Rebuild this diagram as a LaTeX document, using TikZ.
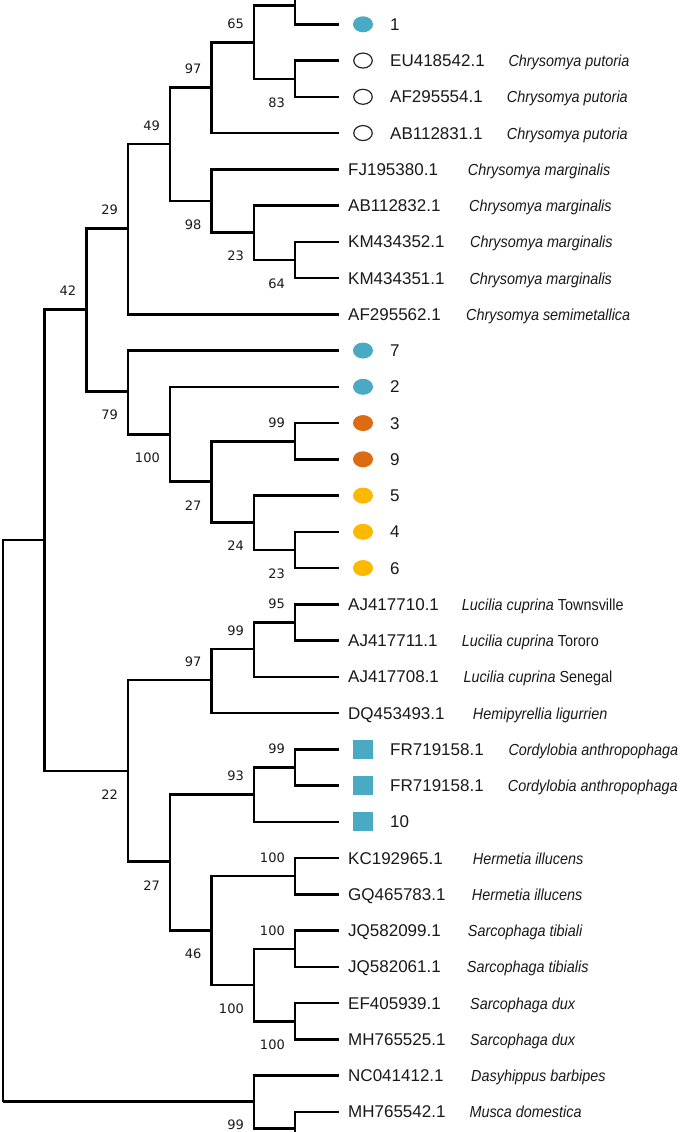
\documentclass[tikz,border=0pt]{standalone}
\usepackage{fontspec}
\setmainfont{Liberation Sans}
\newfontfamily\accfont{Liberation Sans}
\newfontfamily\spfont[FakeStretch=0.9]{Liberation Sans}
\newfontfamily\bsfont{DejaVu Sans}
\usetikzlibrary{calc,shapes.geometric}
\definecolor{tealm}{HTML}{4AA9C3}
\definecolor{orangem}{HTML}{DD6B12}
\definecolor{yellowm}{HTML}{FCB900}
\begin{document}
\begin{tikzpicture}[x=1pt,y=-1pt,
  br/.style={line width=2.6pt, black, line join=miter},
  acc/.style={anchor=base west, inner sep=0pt, font=\accfont\fontsize{17}{20}\selectfont, text=black!90},
  sp/.style={anchor=base west, inner sep=0pt, font=\spfont\fontsize{16}{19}\selectfont\itshape, text=black!90},
  bs/.style={anchor=east, inner sep=0pt, font=\bsfont\fontsize{13}{15}\selectfont, text=black!90},
  dotm/.style={ellipse, minimum width=20pt, minimum height=16pt, inner sep=0pt, draw=none},
  opendot/.style={ellipse, minimum width=18.5pt, minimum height=15pt, inner sep=0pt, draw=black!85, line width=1.2pt},
  sqm/.style={rectangle, minimum width=20pt, minimum height=19pt, inner sep=0pt, fill=tealm},
]
\fill[white] (0,0) rectangle (685,1132);
\useasboundingbox (0,0) rectangle (685,1132);

% leaf tips
\foreach \i in {0,...,30} \coordinate (L\i) at (339, 24.3+36.25*\i);

% internal nodes
\coordinate (R) at (3,1101.7);
\coordinate (A) at (44.3,540);
\coordinate (N42) at (86.3,309.7);
\coordinate (N29) at (128,228.7);
\coordinate (N49) at (170,144);
\coordinate (N97) at (211.7,87.3);
\coordinate (N65) at (254,42.3);
\coordinate (H) at (295,5.7);
\coordinate (topcut) at (295,0);
\coordinate (N83) at (295,79);
\coordinate (N98) at (211.7,201);
\coordinate (N23a) at (254,232.3);
\coordinate (N64) at (295,260);
\coordinate (N79) at (128,391.7);
\coordinate (N100a) at (170,434.3);
\coordinate (N27a) at (211.7,481.7);
\coordinate (N99a) at (295,441.7);
\coordinate (N24) at (254,522.3);
\coordinate (N23b) at (295,550);
\coordinate (N22) at (128,771);
\coordinate (N97b) at (211.7,680);
\coordinate (N99b) at (254,649);
\coordinate (N95) at (295,622.7);
\coordinate (N27b) at (170,861.7);
\coordinate (N93) at (254,794.3);
\coordinate (N99c) at (295,767.7);
\coordinate (N46) at (211.7,930.7);
\coordinate (N100b) at (295,876);
\coordinate (N100c) at (254,985);
\coordinate (N100d) at (295,949);
\coordinate (N100e) at (295,1021.7);
\coordinate (O) at (254,1101.7);
\coordinate (B) at (295,1128.7);
\coordinate (botcut) at (295,1132);

% branches
\draw[br] (R) |- (A);  \draw[br] (R) |- (O);
\draw[br] (A) |- (N42); \draw[br] (A) |- (N22);
\draw[br] (N42) |- (N29); \draw[br] (N42) |- (N79);
\draw[br] (N29) |- (N49); \draw[br] (N29) |- (L8);
\draw[br] (N49) |- (N97); \draw[br] (N49) |- (N98);
\draw[br] (N97) |- (N65); \draw[br] (N97) |- (L3);
\draw[br] (N65) |- (H); \draw[br] (N65) |- (N83);
\draw[br] (H) |- (L0); \draw[br] (H) -- (topcut);
\draw[br] (N83) |- (L1); \draw[br] (N83) |- (L2);
\draw[br] (N98) |- (L4); \draw[br] (N98) |- (N23a);
\draw[br] (N23a) |- (L5); \draw[br] (N23a) |- (N64);
\draw[br] (N64) |- (L6); \draw[br] (N64) |- (L7);
\draw[br] (N79) |- (L9); \draw[br] (N79) |- (N100a);
\draw[br] (N100a) |- (L10); \draw[br] (N100a) |- (N27a);
\draw[br] (N27a) |- (N99a); \draw[br] (N27a) |- (N24);
\draw[br] (N99a) |- (L11); \draw[br] (N99a) |- (L12);
\draw[br] (N24) |- (L13); \draw[br] (N24) |- (N23b);
\draw[br] (N23b) |- (L14); \draw[br] (N23b) |- (L15);
\draw[br] (N22) |- (N97b); \draw[br] (N22) |- (N27b);
\draw[br] (N97b) |- (N99b); \draw[br] (N97b) |- (L19);
\draw[br] (N99b) |- (N95); \draw[br] (N99b) |- (L18);
\draw[br] (N95) |- (L16); \draw[br] (N95) |- (L17);
\draw[br] (N27b) |- (N93); \draw[br] (N27b) |- (N46);
\draw[br] (N93) |- (N99c); \draw[br] (N93) |- (L22);
\draw[br] (N99c) |- (L20); \draw[br] (N99c) |- (L21);
\draw[br] (N46) |- (N100b); \draw[br] (N46) |- (N100c);
\draw[br] (N100b) |- (L23); \draw[br] (N100b) |- (L24);
\draw[br] (N100c) |- (N100d); \draw[br] (N100c) |- (N100e);
\draw[br] (N100d) |- (L25); \draw[br] (N100d) |- (L26);
\draw[br] (N100e) |- (L27); \draw[br] (N100e) |- (L28);
\draw[br] (O) |- (L29); \draw[br] (O) |- (B);
\draw[br] (B) |- (L30); \draw[br] (B) -- (botcut);

% bootstrap values (above = -18.6, below = +23.5)
\node[bs] (b65) at ($(N65)+(-10,-18.6)$) {65};
\node[bs] (b97) at ($(N97)+(-10,-18.6)$) {97};
\node[bs] (b83) at ($(N83)+(-10,23.5)$) {83};
\node[bs] (b49) at ($(N49)+(-10,-18.6)$) {49};
\node[bs] (b29) at ($(N29)+(-10,-18.6)$) {29};
\node[bs] (b98) at ($(N98)+(-10,23.5)$) {98};
\node[bs] (b23a) at ($(N23a)+(-10,23.5)$) {23};
\node[bs] (b64) at ($(N64)+(-10,23.5)$) {64};
\node[bs] (b42) at ($(N42)+(-10,-18.6)$) {42};
\node[bs] (b79) at ($(N79)+(-10,23.5)$) {79};
\node[bs] (b100a) at ($(N100a)+(-10,23.5)$) {100};
\node[bs] (b99a) at ($(N99a)+(-10,-18.6)$) {99};
\node[bs] (b27a) at ($(N27a)+(-10,23.5)$) {27};
\node[bs] (b24) at ($(N24)+(-10,23.5)$) {24};
\node[bs] (b23b) at ($(N23b)+(-10,23.5)$) {23};
\node[bs] (b95) at ($(N95)+(-10,-18.6)$) {95};
\node[bs] (b99b) at ($(N99b)+(-10,-18.6)$) {99};
\node[bs] (b97b) at ($(N97b)+(-10,-18.6)$) {97};
\node[bs] (b22) at ($(N22)+(-10,23.5)$) {22};
\node[bs] (b99c) at ($(N99c)+(-10,-18.6)$) {99};
\node[bs] (b93) at ($(N93)+(-10,-18.6)$) {93};
\node[bs] (b27b) at ($(N27b)+(-10,23.5)$) {27};
\node[bs] (b100b) at ($(N100b)+(-10,-18.6)$) {100};
\node[bs] (b46) at ($(N46)+(-10,23.5)$) {46};
\node[bs] (b100d) at ($(N100d)+(-10,-18.6)$) {100};
\node[bs] (b100c) at ($(N100c)+(-10,23.5)$) {100};
\node[bs] (b100e) at ($(N100e)+(-10,23.5)$) {100};
\node[bs] (b99o) at ($(O)+(-10,23.5)$) {99};

% markers
\node[dotm, fill=tealm] (m0) at ($(L0)+(24,0)$) {};
\node[opendot] (m1) at ($(L1)+(24,0)$) {};
\node[opendot] (m2) at ($(L2)+(24,0)$) {};
\node[opendot] (m3) at ($(L3)+(24,0)$) {};
\node[dotm, fill=tealm] (m9) at ($(L9)+(24,0)$) {};
\node[dotm, fill=tealm] (m10) at ($(L10)+(24,0)$) {};
\node[dotm, fill=orangem] (m11) at ($(L11)+(24,0)$) {};
\node[dotm, fill=orangem] (m12) at ($(L12)+(24,0)$) {};
\node[dotm, fill=yellowm] (m13) at ($(L13)+(24,0)$) {};
\node[dotm, fill=yellowm] (m14) at ($(L14)+(24,0)$) {};
\node[dotm, fill=yellowm] (m15) at ($(L15)+(24,0)$) {};
\node[sqm] (m20) at ($(L20)+(24,0)$) {};
\node[sqm] (m21) at ($(L21)+(24,0)$) {};
\node[sqm] (m22) at ($(L22)+(24,0)$) {};

% tip labels (marker leaves start at x=390, others at x=348)
\node[acc] (t0) at ($(L0)+(51,6.1)$) {1};
\node[acc] (t1) at ($(L1)+(51,6.1)$) {EU418542.1};
\node[sp] (s1) at ($(L1)+(169.3,6.1)$) {Chrysomya putoria};
\node[acc] (t2) at ($(L2)+(51,6.1)$) {AF295554.1};
\node[sp] (s2) at ($(L2)+(167.7,6.1)$) {Chrysomya putoria};
\node[acc] (t3) at ($(L3)+(51,6.1)$) {AB112831.1};
\node[sp] (s3) at ($(L3)+(167.7,6.1)$) {Chrysomya putoria};
\node[acc] (t4) at ($(L4)+(9,6.1)$) {FJ195380.1};
\node[sp] (s4) at ($(L4)+(128.7,6.1)$) {Chrysomya marginalis};
\node[acc] (t5) at ($(L5)+(9,6.1)$) {AB112832.1};
\node[sp] (s5) at ($(L5)+(130,6.1)$) {Chrysomya marginalis};
\node[acc] (t6) at ($(L6)+(9,6.1)$) {KM434352.1};
\node[sp] (s6) at ($(L6)+(131,6.1)$) {Chrysomya marginalis};
\node[acc] (t7) at ($(L7)+(9,6.1)$) {KM434351.1};
\node[sp] (s7) at ($(L7)+(130.3,6.1)$) {Chrysomya marginalis};
\node[acc] (t8) at ($(L8)+(9,6.1)$) {AF295562.1};
\node[sp] (s8) at ($(L8)+(127,6.1)$) {Chrysomya semimetallica};
\node[acc] (t9) at ($(L9)+(51,6.1)$) {7};
\node[acc] (t10) at ($(L10)+(51,6.1)$) {2};
\node[acc] (t11) at ($(L11)+(51,6.1)$) {3};
\node[acc] (t12) at ($(L12)+(51,6.1)$) {9};
\node[acc] (t13) at ($(L13)+(51,6.1)$) {5};
\node[acc] (t14) at ($(L14)+(51,6.1)$) {4};
\node[acc] (t15) at ($(L15)+(51,6.1)$) {6};
\node[acc] (t16) at ($(L16)+(9,6.1)$) {AJ417710.1};
\node[sp] (s16) at ($(L16)+(122.7,6.1)$) {Lucilia cuprina\upshape\ Townsville};
\node[acc] (t17) at ($(L17)+(9,6.1)$) {AJ417711.1};
\node[sp] (s17) at ($(L17)+(122.7,6.1)$) {Lucilia cuprina\upshape\ Tororo};
\node[acc] (t18) at ($(L18)+(9,6.1)$) {AJ417708.1};
\node[sp] (s18) at ($(L18)+(124.3,6.1)$) {Lucilia cuprina\upshape\ Senegal};
\node[acc] (t19) at ($(L19)+(9,6.1)$) {DQ453493.1};
\node[sp] (s19) at ($(L19)+(133.7,6.1)$) {Hemipyrellia ligurrien};
\node[acc] (t20) at ($(L20)+(51,6.1)$) {FR719158.1};
\node[sp] (s20) at ($(L20)+(169.3,6.1)$) {Cordylobia anthropophaga};
\node[acc] (t21) at ($(L21)+(51,6.1)$) {FR719158.1};
\node[sp] (s21) at ($(L21)+(168.7,6.1)$) {Cordylobia anthropophaga};
\node[acc] (t22) at ($(L22)+(51,6.1)$) {10};
\node[acc] (t23) at ($(L23)+(9,6.1)$) {KC192965.1};
\node[sp] (s23) at ($(L23)+(133.7,6.1)$) {Hermetia illucens};
\node[acc] (t24) at ($(L24)+(9,6.1)$) {GQ465783.1};
\node[sp] (s24) at ($(L24)+(132.7,6.1)$) {Hermetia illucens};
\node[acc] (t25) at ($(L25)+(9,6.1)$) {JQ582099.1};
\node[sp] (s25) at ($(L25)+(128.7,6.1)$) {Sarcophaga tibiali};
\node[acc] (t26) at ($(L26)+(9,6.1)$) {JQ582061.1};
\node[sp] (s26) at ($(L26)+(127.7,6.1)$) {Sarcophaga tibialis};
\node[acc] (t27) at ($(L27)+(9,6.1)$) {EF405939.1};
\node[sp] (s27) at ($(L27)+(131,6.1)$) {Sarcophaga dux};
\node[acc] (t28) at ($(L28)+(9,6.1)$) {MH765525.1};
\node[sp] (s28) at ($(L28)+(131,6.1)$) {Sarcophaga dux};
\node[acc] (t29) at ($(L29)+(9,6.1)$) {NC041412.1};
\node[sp] (s29) at ($(L29)+(132,6.1)$) {Dasyhippus barbipes};
\node[acc] (t30) at ($(L30)+(9,6.1)$) {MH765542.1};
\node[sp] (s30) at ($(L30)+(130.3,6.1)$) {Musca domestica};
\end{tikzpicture}
\end{document}
